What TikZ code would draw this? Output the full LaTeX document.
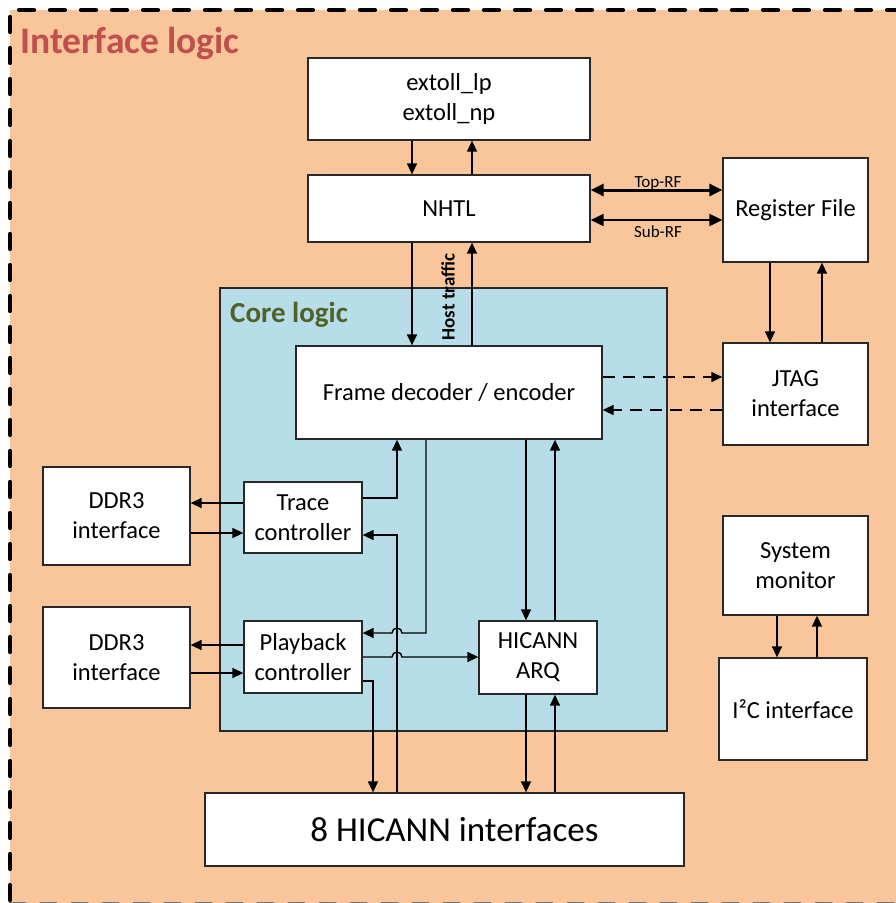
\documentclass[tikz,border=0pt]{standalone}
\usepackage{fontspec}
\setmainfont{Carlito}
\usetikzlibrary{arrows.meta}
\definecolor{ifacebg}{RGB}{249,197,154}
\definecolor{corebg}{RGB}{183,221,232}
\definecolor{ifacetitle}{RGB}{192,80,77}
\definecolor{coretitle}{RGB}{79,98,40}
\definecolor{boxline}{RGB}{40,40,40}
\tikzset{
  blk/.style={draw=boxline, line width=1.3pt, fill=white, inner sep=2pt, align=center,
              font=\fontsize{24.5}{30}\selectfont},
  link/.style={line width=1.4pt, -{Triangle[length=11pt,width=10pt]}},
  plain/.style={line width=1.4pt},
  dlink/.style={link, dash pattern=on 12pt off 8pt},
  rflink/.style={{Triangle[length=13pt,width=12pt]}-{Triangle[length=13pt,width=12pt]}},
  rflabel/.style={font=\fontsize{17}{20}\selectfont},
}
\begin{document}
\begin{tikzpicture}[x=1pt,y=-1pt]
\useasboundingbox (0,0) rectangle (896,903);
\clip (0,0) rectangle (896,903);

% outer region
\fill[ifacebg] (10,10) rectangle (920,904);
\draw[line width=4.2pt, line cap=round, dash pattern=on 15pt off 16pt, dash phase=-4pt]
  (10,904) -- (10,10) -- (920,10);
\draw[line width=4.2pt, line cap=round, draw=black!55, dash pattern=on 15pt off 16pt] (10,904) -- (920,904);
\node[anchor=base west, text=ifacetitle, font=\fontsize{37.5}{42}\selectfont\bfseries, inner sep=0pt]
  (ititle) at (20,53) {Interface logic};

% core region
\node[draw=boxline, line width=1.3pt, fill=corebg, minimum width=447pt, minimum height=443pt, inner sep=0pt]
  (core) at (443.5,509.5) {};
\node[anchor=base west, text=coretitle, font=\fontsize{29}{34}\selectfont\bfseries, inner sep=0pt]
  (ctitle) at (230,322) {Core logic};

% blocks
\node[blk, minimum width=282pt, minimum height=82pt] (ext) at (449,99) {extoll\_lp\\extoll\_np};
\node[blk, minimum width=282pt, minimum height=67pt] (nhtl) at (449,208.5) {NHTL};
\node[blk, minimum width=145pt, minimum height=104pt] (regf) at (795.5,210) {Register File};
\node[blk, minimum width=145pt, minimum height=102pt] (jtag) at (795.5,394) {JTAG\\interface};
\node[blk, minimum width=306pt, minimum height=93pt] (frame) at (449,392.5) {Frame decoder / encoder};
\node[blk, minimum width=147pt, minimum height=98pt] (ddra) at (116.5,516) {DDR3\\interface};
\node[blk, minimum width=118pt, minimum height=71pt] (trace) at (303,517.5) {Trace\\controller};
\node[blk, minimum width=147pt, minimum height=101pt] (ddrb) at (116.5,657.5) {DDR3\\interface};
\node[blk, minimum width=118pt, minimum height=72pt] (play) at (303,657) {Playback\\controller};
\node[blk, minimum width=118pt, minimum height=73pt] (arq) at (538,657.5) {HICANN\\ARQ};
\node[blk, minimum width=145pt, minimum height=99pt] (smon) at (795.5,565.5) {System\\monitor};
\node[blk, minimum width=148pt, minimum height=102pt] (i2c) at (793,709) {I²C interface};
\node[blk, minimum width=479pt, minimum height=73pt, font=\fontsize{35}{42}\selectfont] (hic) at (444.5,829.5) {\hspace*{20pt}8 HICANN interfaces};

% x positions of vertical connectors
\coordinate (xa) at (412,0);
\coordinate (xb) at (472,0);
\coordinate (xr1) at (770,0);
\coordinate (xr2) at (822,0);
\coordinate (xq1) at (526,0);
\coordinate (xq2) at (555,0);
\coordinate (xs1) at (777,0);
\coordinate (xs2) at (817,0);
\coordinate (xt) at (397,0);
\coordinate (xf) at (426,0);
\coordinate (xp) at (373,0);
% y positions of horizontal connectors
\coordinate (yt) at (0,190);
\coordinate (ys) at (0,220);
\coordinate (yj1) at (0,377);
\coordinate (yj2) at (0,410);
\coordinate (yd1) at (0,503);
\coordinate (yd2) at (0,533);
\coordinate (yd3) at (0,645);
\coordinate (yd4) at (0,673);
\coordinate (ytr) at (0,498);
\coordinate (ytb) at (0,535);
\coordinate (ypf) at (0,633);
\coordinate (ypa) at (0,657);
\coordinate (yph) at (0,681);

% extoll <-> NHTL <-> frame
\draw[link] (ext.south -| xa) -- (nhtl.north -| xa);
\draw[link] (nhtl.north -| xb) -- (ext.south -| xb);
\draw[link] (nhtl.south -| xa) -- (frame.north -| xa);
\draw[link] (frame.north -| xb) -- (nhtl.south -| xb);
\node[rotate=90, font=\fontsize{19}{22}\selectfont\bfseries, inner sep=0pt] (host) at (448,297) {Host traffic};

% NHTL <-> register file
\draw[rflink, line width=3pt] (nhtl.east |- yt) -- (regf.west |- yt);
\draw[rflink, line width=2pt] (nhtl.east |- ys) -- (regf.west |- ys);
\node[rflabel] (toprf) at (658,183) {Top-RF};
\node[rflabel] (subrf) at (658,232) {Sub-RF};

% register file <-> JTAG
\draw[link] (regf.south -| xr1) -- (jtag.north -| xr1);
\draw[link] (jtag.north -| xr2) -- (regf.south -| xr2);

% frame <-> JTAG
\draw[dlink] (frame.east |- yj1) -- (jtag.west |- yj1);
\draw[dlink] (jtag.west |- yj2) -- (frame.east |- yj2);

% frame <-> ARQ <-> HICANN interfaces
\draw[link] (frame.south -| xq1) -- (arq.north -| xq1);
\draw[link] (arq.north -| xq2) -- (frame.south -| xq2);
\draw[link] (arq.south -| xq1) -- (hic.north -| xq1);
\draw[link] (hic.north -| xq2) -- (arq.south -| xq2);

% DDR3 <-> controllers
\draw[link] (trace.west |- yd1) -- (ddra.east |- yd1);
\draw[link] (ddra.east |- yd2) -- (trace.west |- yd2);
\draw[link] (play.west |- yd3) -- (ddrb.east |- yd3);
\draw[link] (ddrb.east |- yd4) -- (play.west |- yd4);

% trace controller paths
\draw[link] (trace.east |- ytr) -- (xt |- ytr) -- (frame.south -| xt);
\draw[link] (hic.north -| xt) -- (xt |- ytb) -- (trace.east |- ytb);

% playback controller paths (hopping over the trace feed)
\draw[link] (frame.south -| xf) -- (xf |- ypf) -- ([xshift=5pt]xt |- ypf)
  arc[start angle=0, end angle=180, radius=5pt] -- (play.east |- ypf);
\draw[link] (play.east |- ypa) -- ([xshift=-5pt]xt |- ypa)
  arc[start angle=180, end angle=0, radius=5pt] -- (arq.west |- ypa);
\draw[link] (play.east |- yph) -- (xp |- yph) -- (hic.north -| xp);

% system monitor <-> I2C
\draw[link] (smon.south -| xs1) -- (i2c.north -| xs1);
\draw[link] (i2c.north -| xs2) -- (smon.south -| xs2);
\end{tikzpicture}
\end{document}
